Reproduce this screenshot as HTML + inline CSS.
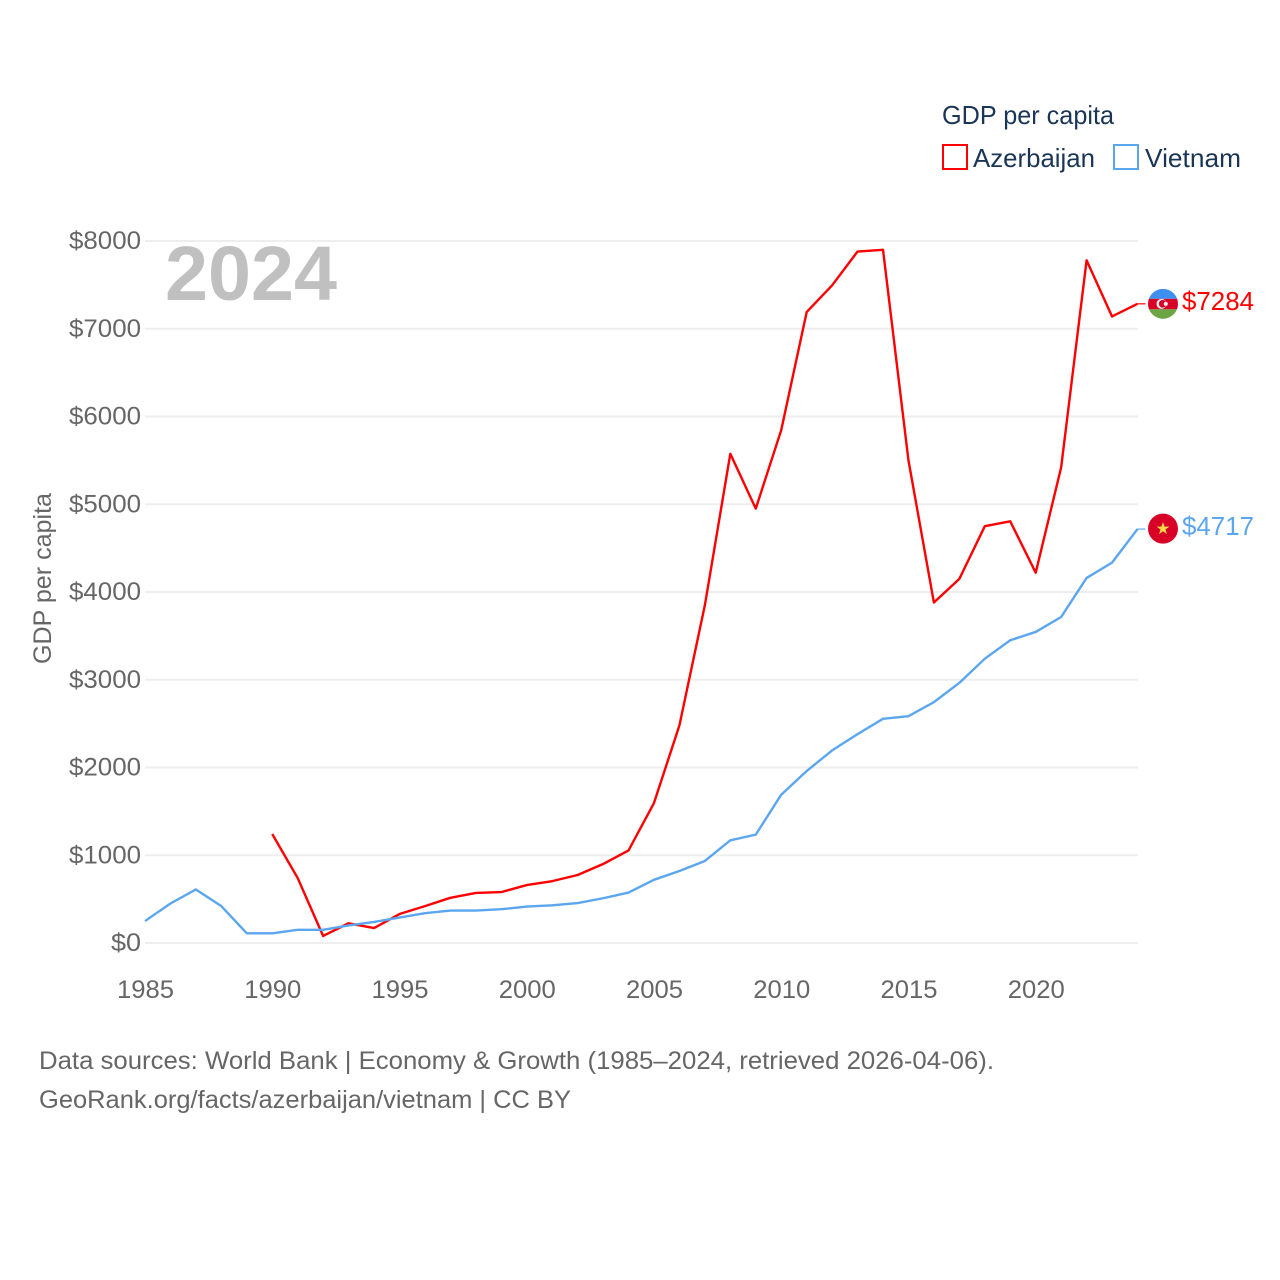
<!DOCTYPE html>
<html lang="en">
<head>
<meta charset="utf-8">
<title>GDP per capita: Azerbaijan and Vietnam</title>
<style>
html,body{margin:0;padding:0;background:#fff;width:1280px;height:1280px;overflow:hidden}
svg{display:block}
text{font-family:"Liberation Sans",sans-serif}
</style>
</head>
<body>
<svg id="chart" xmlns="http://www.w3.org/2000/svg" width="1280" height="1280" viewBox="0 0 1280 1280">
  <rect width="1280" height="1280" fill="#fff"/>
  <g id="grid"></g>
  <g id="yticks"></g>
  <g id="xticks"></g>
  <text x="165" y="300" font-size="77" font-weight="700" fill="#c0c0c0" textLength="172" lengthAdjust="spacingAndGlyphs">2024</text>
  <text transform="translate(51,664) rotate(-90)" font-size="25" fill="#666" textLength="171" lengthAdjust="spacingAndGlyphs">GDP per capita</text>
  <g id="series"></g>

  <g>
    <text x="942" y="124" font-size="26" fill="#1a3555" textLength="172" lengthAdjust="spacingAndGlyphs">GDP per capita</text>
    <g>
      <rect x="943" y="145" width="24" height="24" fill="#fff" stroke="#ff0000" stroke-width="2"/>
      <text x="973" y="167" font-size="26" fill="#1a3555" textLength="122" lengthAdjust="spacingAndGlyphs">Azerbaijan</text>
    </g>
    <g>
      <rect x="1114" y="145" width="24" height="24" fill="#fff" stroke="#5ba6ee" stroke-width="2"/>
      <text x="1145" y="167" font-size="26" fill="#1a3555" textLength="96" lengthAdjust="spacingAndGlyphs">Vietnam</text>
    </g>
  </g>

  <g id="endmarks"></g>

  <text x="39" y="1069" font-size="25" fill="#666" textLength="955" lengthAdjust="spacingAndGlyphs">Data sources: World Bank | Economy &amp; Growth (1985–2024, retrieved 2026-04-06).</text>
  <text x="39" y="1108" font-size="25" fill="#666" textLength="532" lengthAdjust="spacingAndGlyphs">GeoRank.org/facts/azerbaijan/vietnam | CC BY</text>
</svg>

<script>
const years = [1985,1986,1987,1988,1989,1990,1991,1992,1993,1994,1995,1996,1997,1998,1999,2000,2001,2002,2003,2004,2005,2006,2007,2008,2009,2010,2011,2012,2013,2014,2015,2016,2017,2018,2019,2020,2021,2022,2023,2024];
const azerbaijan = [null,null,null,null,null,1242,740,80,225,170,330,420,515,570,580,660,705,775,900,1055,1595,2480,3850,5575,4950,5845,7190,7495,7880,7900,5500,3880,4150,4750,4805,4220,5420,7780,7140,7284];
const vietnam = [250,450,610,420,110,110,150,150,200,240,290,340,370,370,385,415,430,455,510,575,720,820,935,1170,1235,1690,1960,2195,2380,2555,2585,2745,2965,3240,3450,3545,3715,4160,4335,4717];
const yTicks = [0,1000,2000,3000,4000,5000,6000,7000,8000];
const yTickLabels = ['$0','$1000','$2000','$3000','$4000','$5000','$6000','$7000','$8000'];
const xTicks = [1985,1990,1995,2000,2005,2010,2015,2020];

const NS = 'http://www.w3.org/2000/svg';
const x = function (year) { return 145 + (year - 1985) * (1137.5 - 145) / 39; };
const y = function (value) { return 943 - value * (943 - 241) / 8000; };

function make(tag, attrs, parent) {
  const el = document.createElementNS(NS, tag);
  for (const key in attrs) el.setAttribute(key, attrs[key]);
  parent.appendChild(el);
  return el;
}

const gridGroup = document.getElementById('grid');
const yGroup = document.getElementById('yticks');
const xGroup = document.getElementById('xticks');
const seriesGroup = document.getElementById('series');
const endGroup = document.getElementById('endmarks');

yTicks.forEach(function (value, i) {
  const line = make('line', {x1: 145, x2: 1138, y1: y(value), y2: y(value), stroke: '#eeeeee', 'stroke-width': 2}, gridGroup);
  
  
  const label = yTickLabels[i];
  const t = make('text', {x: 141, y: y(value) + 8, 'text-anchor': 'end', 'font-size': 25, fill: '#666', textLength: label.length === 2 ? 30 : 72, lengthAdjust: 'spacingAndGlyphs'}, yGroup);
  t.textContent = label;
  
  
});

xTicks.forEach(function (year) {
  const t = make('text', {x: x(year) + 0.5, y: 998, 'text-anchor': 'middle', 'font-size': 25, fill: '#666', textLength: 57, lengthAdjust: 'spacingAndGlyphs'}, xGroup);
  t.textContent = String(year);
  
  
});

function linePath(values) {
  let d = '';
  let open = false;
  values.forEach(function (value, i) {
    if (value === null) { open = false; return; }
    d += (open ? 'L' : 'M') + x(years[i]).toFixed(2) + ' ' + y(value).toFixed(2);
    open = true;
  });
  return d;
}

const azLine = make('path', {d: linePath(azerbaijan), fill: 'none', stroke: '#ff0000', 'stroke-width': 2.4, 'stroke-linejoin': 'round'}, seriesGroup);



const viLine = make('path', {d: linePath(vietnam), fill: 'none', stroke: '#5ba6ee', 'stroke-width': 2.4, 'stroke-linejoin': 'round'}, seriesGroup);



const azLast = azerbaijan[azerbaijan.length - 1];
const viLast = vietnam[vietnam.length - 1];
const lastX = x(years[years.length - 1]);
const flagX = 1163;

// Azerbaijan end marker
const azY = y(azLast);
const azLink = make('line', {x1: lastX, x2: lastX + 8, y1: azY, y2: azY, stroke: '#ff0000', 'stroke-width': 1.2}, endGroup);



const azFlag = make('g', {transform: 'translate(' + flagX + ',' + azY + ')'}, endGroup);


const azClip = make('clipPath', {id: 'az-clip'}, azFlag);
make('circle', {r: 15}, azClip);
const azBands = make('g', {'clip-path': 'url(#az-clip)'}, azFlag);
make('rect', {x: -15, y: -15, width: 30, height: 10, fill: '#3f8ff0'}, azBands);
make('rect', {x: -15, y: -5, width: 30, height: 10.5, fill: '#d80027'}, azBands);
make('rect', {x: -15, y: 5.5, width: 30, height: 10, fill: '#6da544'}, azBands);
make('circle', {cx: -1.5, cy: 0, r: 5, fill: '#f0f0f0'}, azFlag);
make('circle', {cx: -0.3, cy: 0, r: 3.8, fill: '#d80027'}, azFlag);
make('circle', {cx: 2.8, cy: 0, r: 2, fill: '#f0f0f0'}, azFlag);

const azValue = make('text', {x: 1182, y: azY + 6, 'font-size': 26, fill: '#ff0000', textLength: 72, lengthAdjust: 'spacingAndGlyphs'}, endGroup);
azValue.textContent = '$' + azLast;



// Vietnam end marker
const viY = y(viLast);
const viLink = make('line', {x1: lastX, x2: lastX + 8, y1: viY, y2: viY, stroke: '#5ba6ee', 'stroke-width': 1.2}, endGroup);



const viFlag = make('g', {transform: 'translate(' + flagX + ',' + (viY - 0.5) + ')'}, endGroup);


make('circle', {r: 15, fill: '#d80027'}, viFlag);
make('polygon', {points: '0,-6.5 1.6,-2 6.4,-2 2.5,0.9 3.9,5.5 0,2.7 -3.9,5.5 -2.5,0.9 -6.4,-2 -1.6,-2', fill: '#ffda44'}, viFlag);

const viValue = make('text', {x: 1182, y: viY + 6, 'font-size': 26, fill: '#5ba6ee', textLength: 72, lengthAdjust: 'spacingAndGlyphs'}, endGroup);
viValue.textContent = '$' + viLast;


</script>
</body>
</html>
